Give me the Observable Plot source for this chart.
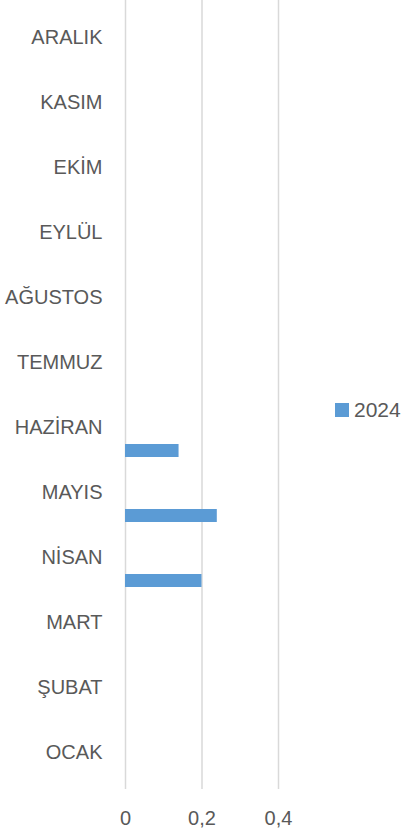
<!DOCTYPE html>
<html>
<head>
<meta charset="utf-8">
<script src="https://cdn.jsdelivr.net/npm/d3@7"></script>
<script src="https://cdn.jsdelivr.net/npm/@observablehq/plot@0.6"></script>
<style>
  html, body { margin: 0; padding: 0; background: #fff; }
  #wrap { position: relative; width: 404px; height: 836px; font-family: "Liberation Sans", Arial, sans-serif; }
  #wrap svg { display: block; }
  #legend { position: absolute; left: 335px; top: 396px; height: 28px; display: flex; align-items: center; font-size: 21px; color: #595959; }
  #legend .sw { width: 14px; height: 14px; background: #5B9BD5; margin-right: 5px; }
</style>
</head>
<body>
<div id="wrap"><div id="legend"><div class="sw"></div><span>2024</span></div></div>
<script>
const months = ["OCAK", "ŞUBAT", "MART", "NİSAN", "MAYIS", "HAZİRAN", "TEMMUZ", "AĞUSTOS", "EYLÜL", "EKİM", "KASIM", "ARALIK"];
const values2024 = [null, null, null, 0.2, 0.24, 0.14, null, null, null, null, null, null];
const xTicks = [0, 0.2, 0.4];
const seriesName = "2024";

const data = months.map((m, i) => ({month: m, value: values2024[i]})).filter(d => d.value != null);

const chart = Plot.plot({
  width: 404,
  height: 836,
  marginLeft: 125,
  marginRight: 126,
  marginTop: 0,
  marginBottom: 47,
  style: {fontFamily: "Liberation Sans, Arial, sans-serif", fontSize: "20px", color: "#595959", background: "transparent"},
  x: {domain: [0, 0.4], ticks: xTicks, tickFormat: d => d3.format(".1~f")(d).replace(".", ","), tickSize: 0, tickPadding: 21, label: null},
  y: {domain: months.slice().reverse(), padding: 0, tickSize: 0, tickPadding: 23, label: null},
  marks: [
    Plot.ruleX(xTicks, {stroke: "#d9d9d9", strokeWidth: 1.5}),
    Plot.barX(data, {x: "value", y: "month", fill: "#5B9BD5", insetTop: 49, insetBottom: 3})
  ]
});
document.getElementById("wrap").prepend(chart);
</script>
</body>
</html>
